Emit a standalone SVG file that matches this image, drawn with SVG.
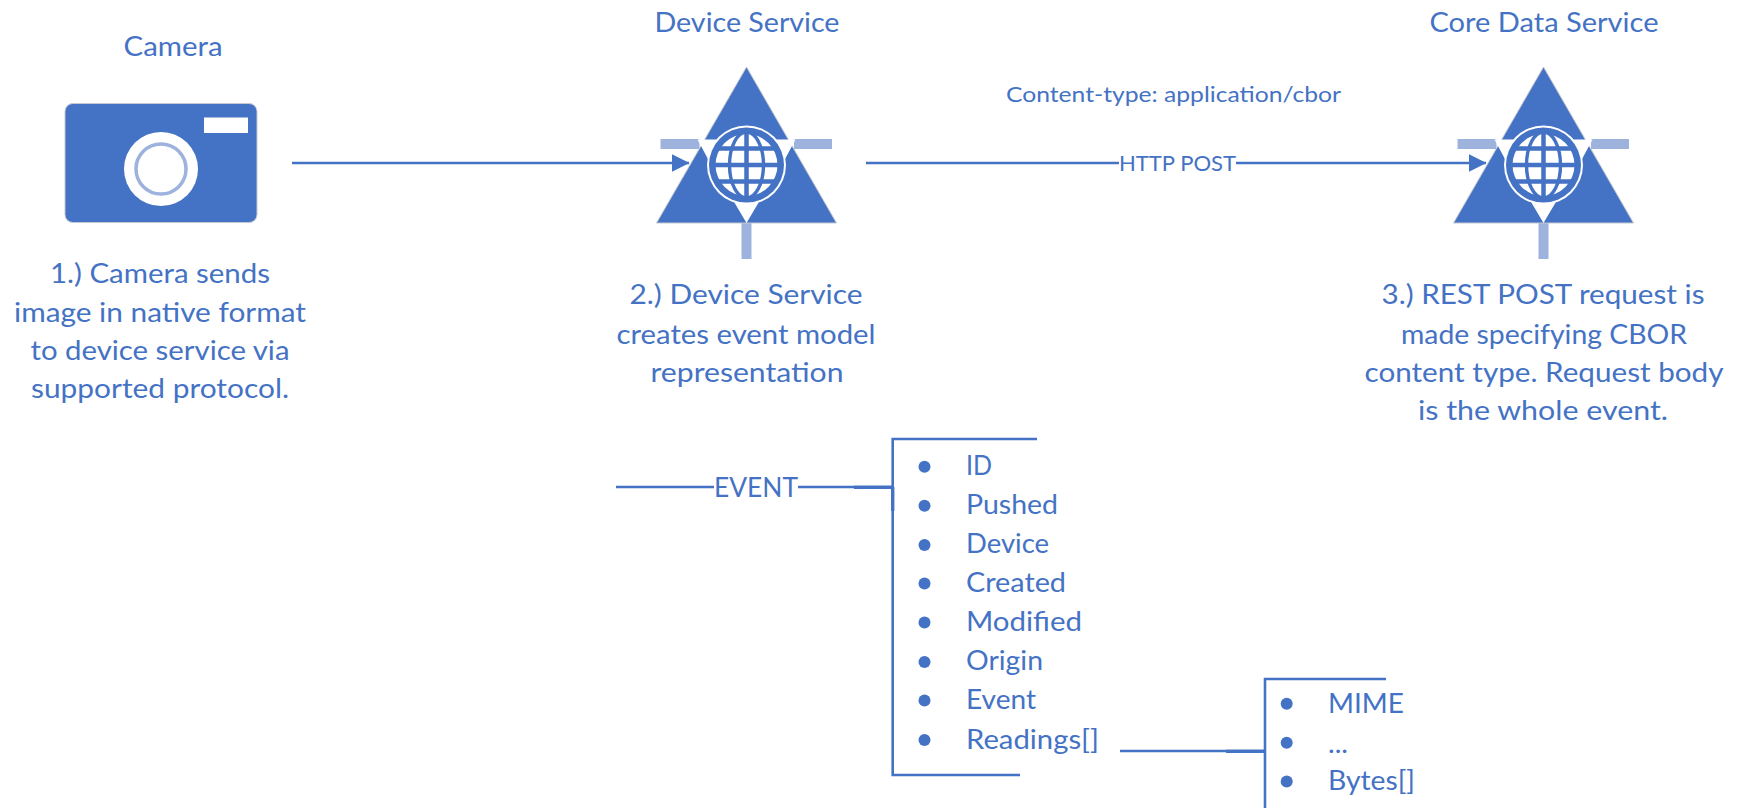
<svg xmlns="http://www.w3.org/2000/svg" xmlns:xlink="http://www.w3.org/1999/xlink" width="1741" height="808" viewBox="0 0 1741 808">
<style>
text{font-family:Lato,"Open Sans","Liberation Sans",sans-serif;fill:#4472c4;font-size:27px;}
.m{text-anchor:middle}
.s{font-size:22px}
.l{stroke:#4472c4;stroke-width:2.6;fill:none}
.t{stroke:#4472c4;stroke-width:3.4;fill:none}
.b{fill:#4472c4}
.w{fill:#fff}
.lt{fill:#9db3de}
.g{stroke:#4472c4;stroke-width:4.5;fill:none}
.n{stroke:#4472c4;stroke-width:3.4;fill:none}
</style>
<defs>
<clipPath id="gc"><circle r="33"/></clipPath>
<marker id="ah" markerUnits="userSpaceOnUse" markerWidth="18" markerHeight="18" refX="17.5" refY="9" orient="auto"><path d="M0 0L18 9L0 18Z" fill="#4472c4"/></marker>
<g id="svc">
<rect class="lt" x="-86" y="-26" width="39" height="10"/>
<rect class="lt" x="47.500" y="-26" width="38" height="10"/>
<rect class="lt" x="-5" y="58" width="10" height="36"/>
<path class="b" d="M0 -98L90 58L-90 58Z" stroke="#c4c8d0" stroke-width="1"/>
<path class="w" d="M-49 -25.500H-25V-5H-38ZM49 -25.500H25V-5H38ZM-13 36H13L0 58Z"/>
<circle class="w" r="39.500"/>
<circle class="b" r="37.500"/>
<circle class="w" r="31"/>
<g clip-path="url(#gc)">
<path class="g" d="M0 -33V33M-33 0H33M-33 -16.500H33M-33 16.500H33"/>
<ellipse class="n" rx="17" ry="33"/>
</g>
</g>
</defs>
<g id="camera">
<text class="m" x="173" y="56" textLength="99" lengthAdjust="spacingAndGlyphs">Camera</text>
<rect class="b" x="65" y="103.500" width="192" height="119" rx="8" stroke="#c4c8d0" stroke-width="1"/>
<rect class="w" x="204" y="117.500" width="44" height="15.500"/>
<circle class="w" cx="161" cy="169" r="37"/>
<circle cx="161" cy="169" r="25" fill="none" stroke="#9db3de" stroke-width="3.500"/>
<text class="m" x="160" y="283" textLength="220" lengthAdjust="spacingAndGlyphs">1.) Camera sends</text>
<text class="m" x="160" y="322" textLength="292" lengthAdjust="spacingAndGlyphs">image in native format</text>
<text class="m" x="160" y="360" textLength="259" lengthAdjust="spacingAndGlyphs">to device service via</text>
<text class="m" x="160" y="398" textLength="258" lengthAdjust="spacingAndGlyphs">supported protocol.</text>
</g>
<g id="device-service">
<text class="m" x="747" y="32" textLength="185" lengthAdjust="spacingAndGlyphs">Device Service</text>
<use xlink:href="#svc" href="#svc" transform="translate(746.500 165)"/>
<text class="m" x="746" y="304" textLength="233" lengthAdjust="spacingAndGlyphs">2.) Device Service</text>
<text class="m" x="746" y="344" textLength="259" lengthAdjust="spacingAndGlyphs">creates event model</text>
<text class="m" x="747" y="382" textLength="193" lengthAdjust="spacingAndGlyphs">representation</text>
</g>
<g id="core-data-service">
<text class="m" x="1544" y="32" textLength="229" lengthAdjust="spacingAndGlyphs">Core Data Service</text>
<use xlink:href="#svc" href="#svc" transform="translate(1543.500 165)"/>
<text class="m" x="1543" y="304" textLength="323" lengthAdjust="spacingAndGlyphs">3.) REST POST request is</text>
<text class="m" x="1544" y="344" textLength="286" lengthAdjust="spacingAndGlyphs">made specifying CBOR</text>
<text class="m" x="1544" y="382" textLength="359" lengthAdjust="spacingAndGlyphs">content type. Request body</text>
<text class="m" x="1543" y="420" textLength="250" lengthAdjust="spacingAndGlyphs">is the whole event.</text>
</g>
<g id="connectors">
<path class="l" d="M292 163H689" marker-end="url(#ah)"/>
<path class="l" d="M866 163H1119M1236 163H1486" marker-end="url(#ah)"/>
<path class="l" d="M616 487H714M798 487H854"/>
<path class="t" d="M854 487.300H894"/>
<path class="l" d="M1120 751H1226"/>
<path class="t" d="M1226 751.300H1266"/>
</g>
<g id="http-label">
<text class="s" x="1006" y="102" textLength="335" lengthAdjust="spacingAndGlyphs">Content-type: application/cbor</text>
<text class="s" x="1119" y="170.500" textLength="117" lengthAdjust="spacingAndGlyphs">HTTP POST</text>
</g>
<g id="event">
<text x="714" y="497" textLength="84" lengthAdjust="spacingAndGlyphs">EVENT</text>
<path class="l" d="M1037 439H892.700V775H1020" stroke-width="3"/>
<path class="t" d="M892.700 487V511"/>
<g class="b"><circle cx="924.500" cy="466.700" r="6"/><circle cx="924.500" cy="505.700" r="6"/><circle cx="924.500" cy="545" r="6"/><circle cx="924.500" cy="583.500" r="6"/><circle cx="924.500" cy="622.500" r="6"/><circle cx="924.500" cy="662" r="6"/><circle cx="924.500" cy="700.500" r="6"/><circle cx="924.500" cy="740" r="6"/></g>
<text x="966" y="475" textLength="26" lengthAdjust="spacingAndGlyphs">ID</text>
<text x="966" y="514" textLength="92" lengthAdjust="spacingAndGlyphs">Pushed</text>
<text x="966" y="553" textLength="83" lengthAdjust="spacingAndGlyphs">Device</text>
<text x="966" y="592" textLength="100" lengthAdjust="spacingAndGlyphs">Created</text>
<text x="966" y="631" textLength="116" lengthAdjust="spacingAndGlyphs">Modified</text>
<text x="966" y="670" textLength="77" lengthAdjust="spacingAndGlyphs">Origin</text>
<text x="966" y="709" textLength="70" lengthAdjust="spacingAndGlyphs">Event</text>
<text x="966" y="749" textLength="133" lengthAdjust="spacingAndGlyphs">Readings[]</text>
</g>
<g id="reading">
<path class="l" d="M1386 679H1265V808" stroke-width="3"/>
<g class="b"><circle cx="1286.700" cy="703.700" r="6"/><circle cx="1286.700" cy="742.700" r="6"/><circle cx="1286.700" cy="781.500" r="6"/></g>
<text x="1328" y="713" textLength="76" lengthAdjust="spacingAndGlyphs">MIME</text>
<text x="1328" y="753" textLength="20" lengthAdjust="spacingAndGlyphs">...</text>
<text x="1328" y="790" textLength="87" lengthAdjust="spacingAndGlyphs">Bytes[]</text>
</g>
</svg>
